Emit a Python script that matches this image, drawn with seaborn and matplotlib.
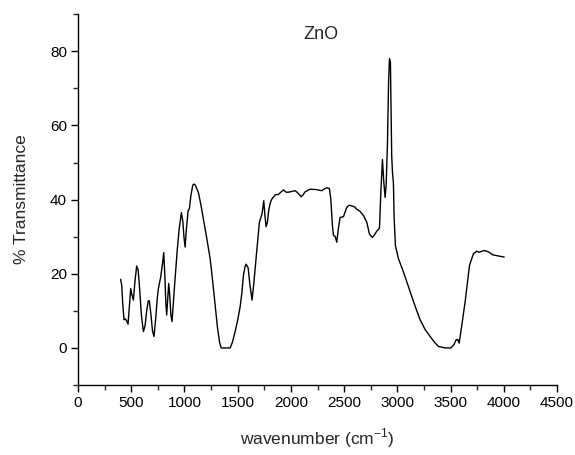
import numpy as np
import pandas as pd
import matplotlib
matplotlib.use('Agg')
import matplotlib.pyplot as plt
from matplotlib.ticker import MultipleLocator
import seaborn as sns

# FTIR spectrum of ZnO
wavenumber = [400, 410, 420, 432, 445, 457, 470, 482, 495, 505, 520, 535, 551, 565, 576,
              595, 614, 630, 645, 660, 670, 685, 700, 714, 730, 745, 755, 777, 795, 805,
              815, 825, 833, 842, 852, 862, 872, 883, 895, 910, 933, 950, 971, 985, 995,
              1006, 1018, 1034, 1046, 1060, 1078, 1090, 1102, 1131, 1155, 1178, 1210, 1241,
              1265, 1288, 1310, 1330, 1345, 1380, 1429, 1450, 1476, 1500, 1523, 1540, 1554,
              1570, 1579, 1598, 1615, 1635, 1650, 1667, 1685, 1704, 1729, 1745, 1755, 1767,
              1780, 1791, 1805, 1820, 1852, 1883, 1905, 1930, 1955, 1977, 2010, 2040, 2065,
              2096, 2115, 2133, 2180, 2240, 2290, 2310, 2337, 2362, 2375, 2390, 2400, 2416,
              2431, 2445, 2462, 2494, 2524, 2549, 2572, 2600, 2619, 2650, 2682, 2713, 2738,
              2752, 2766, 2785, 2807, 2832, 2845, 2860, 2872, 2885, 2895, 2907, 2918, 2926,
              2935, 2942, 2947, 2955, 2963, 2970, 2982, 3010, 3057, 3120, 3170, 3214, 3260,
              3308, 3350, 3386, 3449, 3503, 3530, 3553, 3567, 3581, 3606, 3637, 3660, 3678,
              3715, 3747, 3765, 3778, 3816, 3857, 3897, 3950, 4004]
transmittance = [18.5, 17, 12, 7.6, 7.8, 7.3, 6.4, 11, 16, 14.5, 12.9, 18, 22.1, 21, 17,
                 9, 4.4, 6, 10, 12.7, 12.7, 9, 4.5, 3.1, 8, 13.5, 16, 19.2, 23, 25.7,
                 20, 12, 8.9, 13, 17.4, 14, 9, 7.1, 12, 18, 26.7, 32, 36.5, 34, 30,
                 27.2, 32, 37, 37.5, 41, 43.9, 44.2, 43.9, 41.9, 38.5, 34.8, 29.5, 24.1,
                 18, 11.6, 5.5, 1.5, 0, 0, 0, 1.5, 4.4, 7.5, 11.1, 15, 19.6,
                 22, 22.6, 21.6, 17, 12.9, 17, 22.3, 28, 33.9, 36.2, 39.7, 36, 32.7,
                 34, 37, 39, 40.1, 41.3, 41.4, 42, 42.6, 42, 42, 42.2, 42.4, 41.8,
                 40.8, 41.3, 42.1, 42.8, 42.7, 42.4, 42.8, 43.2, 43, 40, 33, 30.3, 30.1,
                 28.5, 32, 35.2, 35.4, 37.9, 38.5, 38.3, 38, 37.4, 36.8, 35.7, 33.9, 30.7,
                 30.2, 29.8, 30.5, 31.5, 32.3, 42, 50.8, 45, 40.6, 44, 55, 72, 78,
                 77, 62, 51.7, 47, 44.6, 35, 27.6, 24.1, 20.5, 15.2, 11, 7.6, 5,
                 3.1, 1.5, 0.4, 0, 0, 0.8, 2.2, 2.3, 1.3, 6.2, 12.5, 18, 22.3,
                 25.4, 26.1, 25.8, 25.9, 26.3, 25.9, 25.1, 24.8, 24.5]

df = pd.DataFrame({'wavenumber': wavenumber, 'T': transmittance})

sns.set_style('ticks')
plt.rcParams['font.family'] = ['Liberation Sans', 'DejaVu Sans']

fig = plt.figure(figsize=(5.75, 4.55), dpi=100)
ax = fig.add_axes([0.1357, 0.1538, 0.833, 0.815])

sns.lineplot(data=df, x='wavenumber', y='T', color='black', linewidth=1.0, ax=ax, sort=False)

ax.set_xlim(0, 4500)
ax.set_ylim(-10, 90)
ax.xaxis.set_major_locator(MultipleLocator(500))
ax.xaxis.set_minor_locator(MultipleLocator(250))
ax.yaxis.set_major_locator(MultipleLocator(20))
ax.yaxis.set_minor_locator(MultipleLocator(10))
ax.tick_params(which='major', direction='out', length=5, width=1, labelsize=11, colors='black', pad=3)
ax.tick_params(which='minor', direction='out', length=3.5, width=1)
for s in ['top', 'right']:
    ax.spines[s].set_visible(False)
for s in ['left', 'bottom']:
    ax.spines[s].set_color('black')
    ax.spines[s].set_linewidth(1)

ax.set_xlabel('wavenumber (cm$^{\\mathregular{-1}}$)', fontsize=12.5, labelpad=12)
ax.set_ylabel('% Transmittance', fontsize=12.5, labelpad=15)
ax.text(2280, 84.5, 'ZnO', fontsize=13, ha='center', va='center')

plt.savefig('out.png', dpi=100)
